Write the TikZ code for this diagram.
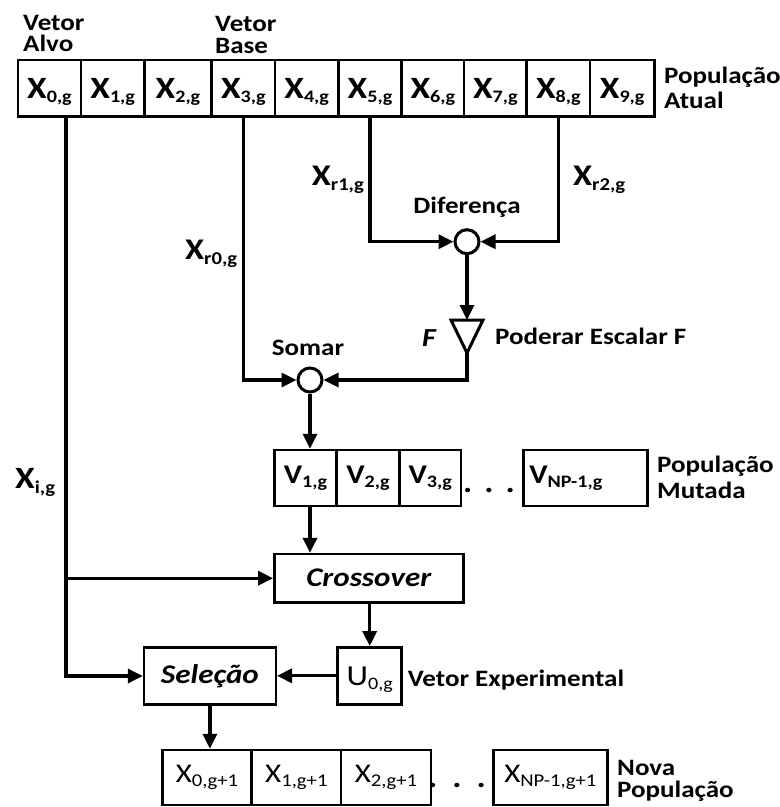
\documentclass[tikz,border=0pt]{standalone}
\usepackage{fontspec}
\setmainfont{Carlito}[FakeStretch=1.15]
\usetikzlibrary{arrows.meta}

% font size helper: size and baseline skip
\newcommand\fsz[1]{\fontsize{#1}{#1}\selectfont}
% lowered subscript in text fonts
\newcommand\sbs[3][4]{\raisebox{-#1pt}{\fontsize{#2}{#2}\selectfont #3}}
% two-line label, first baseline is the node base
\newcommand\twoline[3]{\parbox[t]{150pt}{\raggedright\fontsize{23.5}{#1}\selectfont\bfseries #2\\#3}}

\tikzset{
  box/.style={draw, line width=2.5pt, inner sep=0pt},
  cell/.style={box, font=\fsz{31}\bfseries, text height=19.5pt, text depth=0pt},
  vcell/.style={box, font=\fsz{27}\bfseries},
  ncell/.style={box, font=\fsz{27}},
  lab/.style={inner sep=0pt, font=\fsz{23.5}\bfseries},
  xlab/.style={inner sep=0pt, font=\fsz{30}\bfseries, anchor=base west},
  junction/.style={draw, circle, line width=3pt, minimum size=24pt, inner sep=0pt},
  link/.style={line width=3.3pt, -{Triangle[length=15pt,width=14pt]}},
}

\begin{document}
\begin{tikzpicture}[x=1pt,y=-1pt]
\useasboundingbox[fill=white] (0,0) rectangle (780,807);

% current population
\foreach \a/\b/\i in {18/81/0, 81/144.3/1, 144.3/211.7/2, 211.7/275/3, 275/338.3/4,
                      338.3/401.7/5, 401.7/464/6, 464/526.7/7, 526.7/590/8, 590/654.3/9}
  \node[cell, minimum width={(\b-\a)*1pt}, minimum height=56.7pt] (c\i)
    at ({(\a+\b)/2}, 88.3) {X\sbs{17.5}{\i,g}};

\node[lab, anchor=base west] (lalvo) at (23,30) {\twoline{21.5}{Vetor}{Alvo}};
\node[lab, anchor=base west] (lbase) at (215,31) {\twoline{22}{Vetor}{Base}};
\node[lab, anchor=base west] (latual) at (664,83) {\twoline{25}{População}{Atual}};

% difference, scaling and sum
\node[junction] (dif) at (467,241.7) {};
\node[lab, anchor=base] (ldif) at (467,213) {Diferença};
\coordinate (tritop) at (467,320);
\coordinate (triapex) at (467,353);
\draw[line width=3pt, line join=miter] (451,320) -- (483,320) -- (triapex) -- cycle;
\node[lab, anchor=base, font=\fsz{26}\bfseries\itshape] (lf) at (429,346.7) {F};
\node[lab, anchor=base west] (lesc) at (495,344.3) {Poderar Escalar F};
\node[junction] (sum) at (310,380) {};
\node[lab, anchor=base] (lsum) at (308,355) {Somar};

\node[xlab] (xr1) at (311.7,185) {X\sbs[5]{18}{r1,g}};
\node[xlab] (xr2) at (573,185) {X\sbs[5]{18}{r2,g}};
\node[xlab] (xr0) at (185,259) {X\sbs[5]{18}{r0,g}};
\node[xlab, font=\fsz{31}\bfseries] (xi) at (15,488) {X\sbs[5]{18}{i,g}};

% mutated population
\foreach \a/\b/\i in {274.3/336.7/1, 336.7/399.3/2, 399.3/461/3}
  \node[vcell, minimum width={(\b-\a)*1pt}, minimum height=56pt] (v\i)
    at ({(\a+\b)/2}, 478) {V\sbs{17.5}{\i,g}};
\node[vcell, text width=112.4pt, inner xsep=6pt, align=left, minimum height=56pt] (vn)
  at (585.5,478) {V\sbs{17.5}{NP-1,g}};
\node[lab, anchor=base, font=\fsz{30}\bfseries] (vdots) at (489,492) {.\hspace{12pt}.\hspace{12pt}.};
\node[lab, anchor=base west] (lmut) at (657,472.3) {\twoline{26}{População}{Mutada}};

% crossover, trial vector and selection
\node[box, minimum width=189pt, minimum height=48.3pt, font=\fsz{27}\bfseries\itshape]
  (cross) at (368.8,578.2) {Crossover};
\node[box, minimum width=64pt, minimum height=57pt, font=\fsz{29}, text height=18.5pt, text depth=0pt]
  (u) at (369.7,675.8) {U\sbs{17.5}{0,g}};
\node[lab, anchor=base west] (lexp) at (407.7,686.7) {Vetor Experimental};
\node[box, minimum width=131.7pt, minimum height=56.6pt, font=\fsz{27}\bfseries\itshape]
  (sel) at (209.9,676) {Seleção};

% new population
\foreach \a/\b/\i in {162.3/251.7/0, 251.7/341/1, 341/431/2}
  \node[ncell, minimum width={(\b-\a)*1pt}, minimum height=55pt] (n\i)
    at ({(\a+\b)/2}, 777.5) {X\sbs{18}{\i,g+1}};
\node[ncell, minimum width=114pt, minimum height=55pt] (nn) at (550.3,777.5) {X\sbs{18}{NP-1,g+1}};
\node[lab, anchor=base, font=\fsz{30}\bfseries] (ndots) at (457,787) {.\hspace{15pt}.\hspace{15pt}.};
\node[lab, anchor=base west] (lnova) at (617,775) {\twoline{22.3}{Nova}{População}};

% connectors
\coordinate (alvo) at ([xshift=16.5pt]c0.south);
\draw[link] (alvo) |- (sel.west);
\draw[link] (alvo |- cross.west) -- (cross.west);
\draw[link] (c3.south) |- (sum.west);
\draw[link] (c5.south) |- (dif.west);
\draw[link] (c8.south) |- (dif.east);
\draw[link] (dif.south) -- (tritop);
\draw[link] (triapex) |- (sum.east);
\draw[link] (sum.south) -- (sum.south |- v1.north);
\draw[link] (sum.south |- v1.south) -- (sum.south |- cross.north);
\draw[link] (u.north |- cross.south) -- (u.north);
\draw[link] (u.west) -- (u.west -| sel.east);
\draw[link] (sel.south) -- (sel.south |- n0.north);
\end{tikzpicture}
\end{document}
